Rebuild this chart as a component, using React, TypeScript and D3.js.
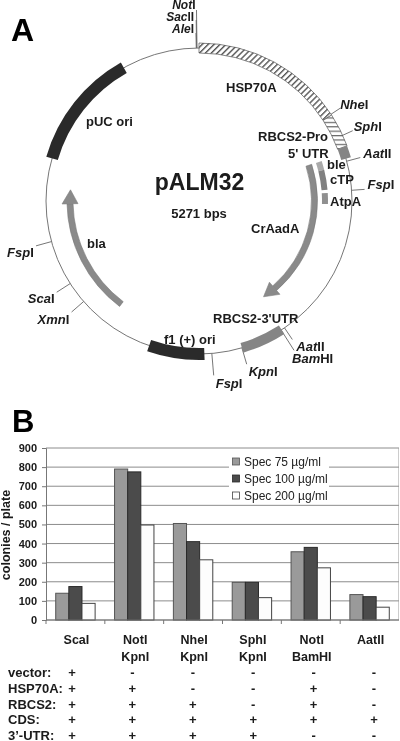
import * as d3 from "d3";
import { useEffect, useRef } from "react";

// plasmid map, positions in bp
const plasmidSize = 5271;
const darkFeatures = [
  { name: "pUC ori", start: 4190, end: 4840 },
  { name: "f1 ori", start: 2606, end: 2914 },
];
const greyFeatures = [
  { name: "RBCS2-3'UTR", start: 2157, end: 2397 },
  { name: "AatII block", start: 1018, end: 1083 },
];
const hatchedFeatures = [
  { name: "HSP70A", start: 0, end: 835, pattern: "diag" },
  { name: "RBCS2-Pro", start: 835, end: 1018, pattern: "horiz" },
];
const innerFeatures = [
  { name: "ble", start: 1054, end: 1113, fill: "#aaaaaa" },
  { name: "cTP", start: 1113, end: 1245, fill: "#808080" },
  { name: "AtpA", start: 1265, end: 1338, fill: "#909090" },
];
const arrowFeatures = [
  { name: "bla", from: 3177, to: 4026 },
  { name: "CrAadA", from: 1054, to: 2138 },
];
const sites = [
  { id: "NotI", it: "Not", ro: "I", bp: 5260 },
  { id: "SacII", it: "Sac", ro: "II", bp: 5258 },
  { id: "AleI", it: "Ale", ro: "I", bp: 5256 },
  { id: "NheI", it: "Nhe", ro: "I", bp: 830 },
  { id: "SphI", it: "Sph", ro: "I", bp: 958 },
  { id: "AatII", it: "Aat", ro: "II", bp: 1097 },
  { id: "FspI", it: "Fsp", ro: "I", bp: 1259 },
  { id: "AatII2", it: "Aat", ro: "II", bp: 2138 },
  { id: "BamHI", it: "Bam", ro: "HI", bp: 2160 },
  { id: "KpnI", it: "Kpn", ro: "I", bp: 2397 },
  { id: "FspI2", it: "Fsp", ro: "I", bp: 2565 },
  { id: "XmnI", it: "Xmn", ro: "I", bp: 3352 },
  { id: "ScaI", it: "Sca", ro: "I", bp: 3475 },
  { id: "FspI3", it: "Fsp", ro: "I", bp: 3728 },
];

// bar chart
const categories = ["ScaI", "NotI KpnI", "NheI KpnI", "SphI KpnI", "NotI BamHI", "AatII"];
const seriesNames = ["Spec 75 µg/ml", "Spec 100 µg/ml", "Spec 200 µg/ml"];
const spec75 = [140, 790, 505, 197, 357, 133];
const spec100 = [175, 775, 410, 197, 380, 122];
const spec200 = [87, 497, 315, 117, 273, 67];
const seriesValues = [spec75, spec100, spec200];
const seriesFill = ["#9a9a9a", "#4c4c4c", "#fdfdfd"];
const seriesStroke = ["#555", "#2a2a2a", "#444"];

const rowNames = ["vector:", "HSP70A:", "RBCS2:", "CDS:", "3’-UTR:"];
const rowMarks = [
  ["+", "-", "-", "-", "-", "-"],
  ["+", "+", "-", "-", "+", "-"],
  ["+", "+", "+", "-", "+", "-"],
  ["+", "+", "+", "+", "+", "+"],
  ["+", "+", "+", "+", "-", "-"],
];

const FONT = "'Liberation Sans', Arial, sans-serif";
const cx = 199;
const cy = 201;
const R = 153;

// leader end radius and label offset from that end
const siteLayout: Record<string, { r: number; dx: number; dy: number; anchor?: string; size?: number }> = {
  NotI: { r: 191, dx: -1, dy: -1, anchor: "end", size: 12 },
  SacII: { r: 181, dx: -2, dy: 1, anchor: "end", size: 12 },
  AleI: { r: 168, dx: -2, dy: 0, anchor: "end", size: 12 },
  NheI: { r: 169, dx: 0, dy: 1, anchor: "start" },
  SphI: { r: 169, dx: 1, dy: 0, anchor: "start" },
  AatII: { r: 167, dx: 3, dy: 0, anchor: "start" },
  FspI: { r: 166, dx: 3, dy: 0, anchor: "start" },
  AatII2: { r: 167, dx: 4, dy: 12, anchor: "start" },
  BamHI: { r: 177, dx: -2, dy: 13, anchor: "start" },
  KpnI: { r: 170, dx: 2, dy: 12, anchor: "start" },
  FspI2: { r: 175, dx: 2, dy: 13, anchor: "start" },
  XmnI: { r: 169, dx: -34, dy: 12, anchor: "start" },
  ScaI: { r: 169, dx: -29, dy: 11, anchor: "start" },
  FspI3: { r: 169, dx: -29, dy: 11, anchor: "start" },
};

const angle = d3.scaleLinear().domain([0, plasmidSize]).range([0, 2 * Math.PI]);
const arc = d3.arc();
const ringPath = (start: number, end: number, r0: number, r1: number) =>
  arc({ innerRadius: r0, outerRadius: r1, startAngle: angle(start), endAngle: angle(end) }) as string;

// arrow head drawn around the end of a curved feature
const arrowHead = (from: number, to: number, r: number) => {
  const dir = to > from ? 1 : -1;
  const headBp = dir * (14 / r) * (plasmidSize / (2 * Math.PI));
  const a = angle(to - headBp);
  const p = d3.path();
  const p1 = d3.pointRadial(a, r + 8);
  const p2 = d3.pointRadial(angle(to), r);
  const p3 = d3.pointRadial(a, r - 8);
  p.moveTo(p1[0], p1[1]);
  p.lineTo(p2[0], p2[1]);
  p.lineTo(p3[0], p3[1]);
  p.closePath();
  return { d: p.toString(), headBp };
};

const plot = { left: 46, right: 399, top: 448, bottom: 620 };
const x0 = d3.scaleBand().domain(categories).range([plot.left, plot.right]);
const x1 = d3.scaleBand().domain(seriesNames).range([0, x0.bandwidth()]).paddingOuter(0.74).paddingInner(0);
const y = d3.scaleLinear().domain([0, 900]).range([plot.bottom, plot.top]);
const legendY = d3.scalePoint().domain(seriesNames).range([466, 500]);
const columnX = d3.scalePoint().domain(categories).range([72, 374]);
const rowY = d3.scalePoint().domain(rowNames).range([677, 740]);

const Label = ({ x, y, text, size = 13, anchor = "start" }: any) => (
  <text x={x} y={y} fontSize={size} fontWeight="bold" textAnchor={anchor} fill="#1a1a1a">
    {text}
  </text>
);

const App = () => {
  const axisRef = useRef<SVGGElement>(null);

  useEffect(() => {
    const g = d3.select(axisRef.current);
    g.selectAll("*").remove();
    g.call(d3.axisLeft(y).ticks(9).tickSize(4).tickPadding(5) as any);
    g.selectAll("path,line").attr("stroke", "#777");
    g.selectAll("text")
      .attr("font-family", FONT)
      .attr("font-size", 11)
      .attr("font-weight", "bold")
      .attr("fill", "#1a1a1a");
  }, []);

  return (
    <svg
      width={400}
      height={741}
      style={{ position: "absolute", left: 0, top: 0, background: "#fff" }}
      fontFamily={FONT}
    >
      <defs>
        <filter id="soft" x="0" y="0" width="100%" height="100%">
          <feGaussianBlur stdDeviation="0.35" />
        </filter>
        <pattern id="diag" width="4.2" height="4.2" patternUnits="userSpaceOnUse" patternTransform="rotate(45)">
          <rect width="4.2" height="4.2" fill="#fff" />
          <rect width="1.4" height="4.2" fill="#555" />
        </pattern>
        <pattern id="horiz" width="5" height="4.4" patternUnits="userSpaceOnUse">
          <rect width="5" height="4.4" fill="#fff" />
          <rect width="5" height="1.2" fill="#666" />
        </pattern>
      </defs>
      <g filter="url(#soft)">
        <text x={11} y={41} fontSize={32} fontWeight="bold" fill="#000">A</text>
        <text x={12} y={432} fontSize={31} fontWeight="bold" fill="#000">B</text>

        <g transform={`translate(${cx},${cy})`}>
          <circle r={R} fill="none" stroke="#666" strokeWidth={0.9} />
          {sites.map((s) => {
            const a = angle(s.bp);
            const l = siteLayout[s.id];
            const p0 = d3.pointRadial(a, R);
            const p1 = d3.pointRadial(a, l.r);
            return (
              <g key={s.id}>
                <line x1={p0[0]} y1={p0[1]} x2={p1[0]} y2={p1[1]} stroke="#666" strokeWidth={0.9} />
                <text x={p1[0] + l.dx} y={p1[1] + l.dy} fontSize={l.size ?? 13} fontWeight="bold" textAnchor={l.anchor} fill="#1a1a1a">
                  <tspan fontStyle="italic">{s.it}</tspan>
                  <tspan>{s.ro}</tspan>
                </text>
              </g>
            );
          })}
          {hatchedFeatures.map((f) => (
            <path
              key={f.name}
              d={ringPath(f.start, f.end, R - 5, R + 5)}
              fill={`url(#${f.pattern})`}
              stroke="#555"
              strokeWidth={0.7}
            />
          ))}
          {darkFeatures.map((f) => (
            <path key={f.name} d={ringPath(f.start, f.end, R - 6, R + 6)} fill="#2b2b2b" />
          ))}
          {greyFeatures.map((f) => (
            <path key={f.name} d={ringPath(f.start, f.end, R - 5, R + 5)} fill="#858585" />
          ))}
          {innerFeatures.map((f) => (
            <path key={f.name} d={ringPath(f.start, f.end, 123, 129)} fill={f.fill} />
          ))}
          {arrowFeatures.map((f) => {
            const r = f.name === "bla" ? 129 : 115.5;
            const head = arrowHead(f.from, f.to, r);
            const shaftEnd = f.to - head.headBp;
            const lo = Math.min(f.from, shaftEnd);
            const hi = Math.max(f.from, shaftEnd);
            return (
              <g key={f.name}>
                <path d={ringPath(lo, hi, r - 3, r + 3)} fill="#8a8a8a" stroke="#777" strokeWidth={0.6} />
                <path d={head.d} fill="#8a8a8a" stroke="#808080" strokeWidth={0.6} />
              </g>
            );
          })}
        </g>

        <Label x={226} y={92} text="HSP70A" />
        <Label x={86} y={126} text="pUC ori" />
        <Label x={258} y={141} text="RBCS2-Pro" />
        <Label x={288} y={158} text="5' UTR" />
        <Label x={327} y={169} text="ble" />
        <Label x={330} y={184} text="cTP" />
        <Label x={330} y={206} text="AtpA" />
        <Label x={251} y={233} text="CrAadA" />
        <Label x={87} y={248} text="bla" />
        <Label x={213} y={323} text="RBCS2-3'UTR" />
        <Label x={164} y={344} text="f1 (+) ori" />
        <Label x={199.5} y={190} text="pALM32" size={23} anchor="middle" />
        <Label x={199} y={218} text="5271 bps" size={13} anchor="middle" />

        {/* bar chart */}
        <g>
          {y.ticks(9).map((t) => (
            <line key={t} x1={plot.left} x2={plot.right} y1={y(t)} y2={y(t)} stroke="#8c8c8c" strokeWidth={1} />
          ))}
          <line x1={plot.right} x2={plot.right} y1={plot.top} y2={plot.bottom} stroke="#999" />
          <g ref={axisRef} transform={`translate(${plot.left},0)`} />
          {categories.map((c, i) => (
            <line
              key={c}
              x1={x0(c)}
              x2={x0(c)}
              y1={plot.bottom}
              y2={plot.bottom + 4}
              stroke="#777"
            />
          ))}
          {seriesNames.map((s, si) =>
            categories.map((c, i) => (
              <rect
                key={s + c}
                x={(x0(c) as number) + (x1(s) as number)}
                y={y(seriesValues[si][i])}
                width={x1.bandwidth()}
                height={plot.bottom - y(seriesValues[si][i])}
                fill={seriesFill[si]}
                stroke={seriesStroke[si]}
                strokeWidth={1}
              />
            )),
          )}
          <line x1={plot.left} x2={plot.right} y1={plot.bottom} y2={plot.bottom} stroke="#777" />

          <rect x={229} y={452} width={100} height={51} fill="#fff" />
          {seriesNames.map((s, si) => (
            <g key={s}>
              <rect
                x={232.5}
                y={(legendY(s) as number) - 8}
                width={7}
                height={7}
                fill={seriesFill[si]}
                stroke={seriesStroke[si]}
                strokeWidth={0.8}
              />
              <text x={244} y={legendY(s)} fontSize={12} fill="#222">
                {s}
              </text>
            </g>
          ))}

          <text
            transform={`translate(9.5,535) rotate(-90)`}
            textAnchor="middle"
            fontSize={12.5}
            fontWeight="bold"
            fill="#1a1a1a"
          >
            colonies / plate
          </text>

          {categories.map((c) =>
            c.split(" ").map((part, k) => (
              <Label
                key={c + part}
                x={(x0(c) as number) + x0.bandwidth() / 2 + 1}
                y={644 + k * 17}
                text={part}
                size={12.5}
                anchor="middle"
              />
            )),
          )}
        </g>

        {rowNames.map((r, ri) => (
          <g key={r}>
            <Label x={8} y={rowY(r)} text={r} size={13} />
            {rowMarks[ri].map((m, ci) => (
              <Label
                key={ci}
                x={columnX(categories[ci])}
                y={rowY(r)}
                text={m}
                size={13}
                anchor="middle"
              />
            ))}
          </g>
        ))}
      </g>
    </svg>
  );
};

export default App;
